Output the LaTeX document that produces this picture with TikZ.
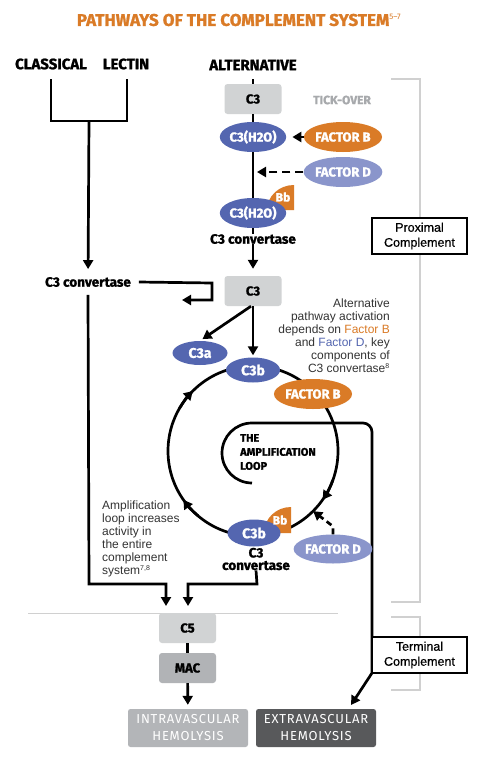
\documentclass[tikz,border=0pt]{standalone}
\usepackage{fontspec}
\setmainfont{Fira Sans}[BoldFeatures={FakeBold=1.3}]
\newfontfamily\firals{Fira Sans}[LetterSpace=6]
\newfontfamily\helv{Liberation Sans}
\newfontfamily\helvm{Liberation Sans}[FakeBold=0.5]
\usetikzlibrary{shapes.geometric,arrows.meta,calc}
\definecolor{orng}{HTML}{DA7B27}
\definecolor{blu}{HTML}{5466B0}
\definecolor{lblu}{HTML}{8A95CB}
\definecolor{boxg}{HTML}{D1D3D4}
\definecolor{macg}{HTML}{B1B3B6}
\definecolor{intg}{HTML}{B3B5B8}
\definecolor{extg}{HTML}{58595B}
\definecolor{brk}{HTML}{D0D0D0}
\definecolor{notec}{HTML}{333333}
\definecolor{tick}{HTML}{A7A9AC}
\newcommand\fsz[2]{\fontsize{#1}{#2}\selectfont}
\tikzset{
  ln/.style={line width=2.7pt, black},
  arr/.style={ln, -{Triangle[length=9pt,width=10pt]}},
  ell/.style={ellipse, fill=#1, inner sep=0pt, text=white, font=\bfseries\fsz{13}{13}},
  gbox/.style={rectangle, rounded corners=3pt, fill=boxg, inner sep=0pt, minimum width=57pt, minimum height=30pt, font=\bfseries\fsz{13}{13}},
  hdr/.style={font=\bfseries\fsz{15}{15}, inner sep=0pt},
  lbl/.style={font=\bfseries\fsz{13.5}{13.5}, inner sep=0pt},
  bbt/.style={font=\bfseries\fsz{12}{12}, text=white, inner sep=0pt},
  note/.style={font=\helv\fsz{12}{13}, text=notec, inner sep=0pt},
  cbox/.style={draw=black, line width=1.6pt, fill=white, minimum width=95pt, minimum height=36pt, align=center, font=\helvm\fsz{12.5}{15}, inner sep=0pt},
  bot/.style={rectangle, rounded corners=2.5pt, minimum width=120pt, minimum height=38pt, inner sep=0pt, align=center, text=white, font=\firals\fsz{13}{17}},
  brkl/.style={draw=brk, line width=1.3pt},
}
\begin{document}
\begin{tikzpicture}[x=1pt,y=-1pt]
\fill[white] (0,0) rectangle (487,758);
\useasboundingbox (0,0) rectangle (487,758);

% title
\node[font=\bfseries\fsz{17}{17}, text=orng, inner sep=0pt] (title) at (239,20) {PATHWAYS OF THE COMPLEMENT SYSTEM\textsuperscript{\fsz{8}{8}\mdseries 5--7}};

% headers
\node[hdr] (cla) at (51,64) {CLASSICAL};
\node[hdr] (lec) at (126,64) {LECTIN};
\node[hdr] (alt) at (253,65) {ALTERNATIVE};

% brackets (proximal / terminal)
\draw[brkl] (391,79) -- (420,79) -- (420,602) -- (391,602);
\draw[brkl] (391,617) -- (420,617) -- (420,690) -- (391,690);
\draw[draw=brk, line width=1pt] (28,613) -- (338,613);

% amplification loop circle (behind nodes)
\coordinate (lc) at (253,451);
\draw[ln] (lc) circle[radius=85];
\draw[arr] (lc) ++(210:85) arc[start angle=210, end angle=225, radius=85];
\draw[arr] (lc) ++(130:85) arc[start angle=130, end angle=145, radius=85];
\draw[arr] (lc) ++(20:85) arc[start angle=20, end angle=35, radius=85];

% spiral and long line to extravascular
\coordinate (extin) at (351,705);
\draw[arr] (252,483) arc[start angle=90, end angle=270, radius=30] -- (363,423)
  arc[start angle=270, end angle=360, radius=9] -- (372,673) -- (extin);

% fork classical / lectin
\coordinate (fa) at (51,79);
\coordinate (fb) at (127,79);
\coordinate (fk) at (89,121);
\draw[ln] (fa) -- (51,121) -- (127,121) -- (fb);

% alternative column
\coordinate (altl) at (253,79);
\node[gbox] (c3t) at (253,99) {C3};
\node[font=\bfseries\fsz{12}{12}, text=tick, inner sep=0pt] (tick) at (342,100) {TICK-OVER};
\node[ell=blu, minimum width=65pt, minimum height=30pt] (h2o1) at (253,137) {C3(H2O)};
\node[ell=orng, minimum width=63pt, minimum height=30pt] (fb1) at (343,137) {FACTOR B};
\node[ell=lblu, minimum width=63pt, minimum height=30pt] (fd1) at (343,172) {FACTOR D};
\coordinate (fdt) at (257,172);
\fill[orng] (294,210) -- (267,210) arc[start angle=180, end angle=270, x radius=27, y radius=25] -- cycle;
\node[ell=blu, minimum width=65pt, minimum height=30pt] (h2o2) at (253,213) {C3(H2O)};
\node[bbt] (bb1) at (283,197) {Bb};
\node[lbl] (cvt) at (253,239) {C3 convertase};
\node[gbox] (c3m) at (253,291) {C3};

\draw[ln] (altl) -- (c3t);
\draw[ln] (c3t) -- (h2o1);
\draw[ln] (h2o1) -- (h2o2);
\draw[ln] (h2o2) -- (cvt);
\draw[arr, shorten >=7pt] (cvt) -- (c3m);
\draw[arr, shorten >=6pt] (fb1) -- (h2o1);
\draw[arr, dash pattern=on 8pt off 5pt] (fd1) -- (fdt);

% left C3 convertase
\node[lbl, outer sep=8pt] (cvl) at (88,282) {C3 convertase};
\draw[arr] (fk) -- (cvl);
\draw[arr] (cvl.east) -- (212,283) -- (212,300) -- ++(-30,0);

% C3 products
\node[ell=blu, minimum width=55pt, minimum height=24pt, font=\bfseries\fsz{14}{14}] (c3a) at (200,353) {C3a};
\node[ell=blu, minimum width=54pt, minimum height=25pt, font=\bfseries\fsz{14}{14}] (c3bt) at (253,370) {C3b};
\node[ell=orng, minimum width=63pt, minimum height=30pt] (fb2) at (313,394) {FACTOR B};
\draw[arr, shorten >=3pt] ([xshift=-2pt]c3m.south) -- (c3a.north);
\draw[arr, shorten >=2pt] (c3m) -- (c3bt);

% bottom of loop
\fill[orng] (291,533) -- (264,533) arc[start angle=180, end angle=270, x radius=27, y radius=26] -- cycle;
\node[ell=blu, minimum width=53pt, minimum height=27pt, font=\bfseries\fsz{14}{14}] (c3bb) at (254,533) {C3b};
\node[bbt] (bb2) at (280,520) {Bb};
\node[lbl, align=center, font=\bfseries\fsz{13.5}{12.5}] (cvb) at (256,559) {C3\\convertase};
\node[ell=lblu, minimum width=63pt, minimum height=29pt] (fd2) at (333,549) {FACTOR D};
\coordinate (circD) at ($(lc)+(45:85)$);
\draw[arr, dash pattern=on 6pt off 4pt] (fd2.north) -- ++(0,-8) -- (circD);

\node[font=\bfseries\fsz{11}{14}, align=left, anchor=west, inner sep=0pt] (amp) at (240,452) {THE\\AMPLIFICATION\\LOOP};

% notes
\node[note, align=right, anchor=north east] (n1) at (390,298.5) {Alternative\\pathway activation\\depends on \textcolor{orng}{Factor B}\\and \textcolor{blu}{Factor D}, key\\components of\\C3 convertase\textsuperscript{\fsz{7}{7}8}};
\node[note, align=left, anchor=north west] (n2) at (102,500.5) {Amplification\\loop increases\\activity in\\the entire\\complement\\system\textsuperscript{\fsz{7}{7}7,8}};

% complement labels
\node[cbox] (prox) at (419.5,236) {Proximal\\Complement};
\node[cbox] (term) at (419.5,655) {Terminal\\Complement};

% terminal pathway
\node[gbox] (c5) at (187.5,628) {C5};
\node[gbox, fill=macg] (mac) at (187.5,668) {MAC};
\node[bot, fill=intg] (intra) at (188,728) {INTRAVASCULAR\\HEMOLYSIS};
\node[bot, fill=extg] (extra) at (316,728) {EXTRAVASCULAR\\HEMOLYSIS};
\coordinate (c5l) at (166,606);
\coordinate (c5r) at (188,606);
\draw[arr] (cvl.south) -- (89,584) -- (166,584) -- (c5l);
\draw[arr] (cvb.south) -- (257,584) -- (188,584) -- (c5r);
\draw[ln] (c5) -- (mac);
\draw[arr, shorten >=4pt] (mac) -- (intra);
\end{tikzpicture}
\end{document}
